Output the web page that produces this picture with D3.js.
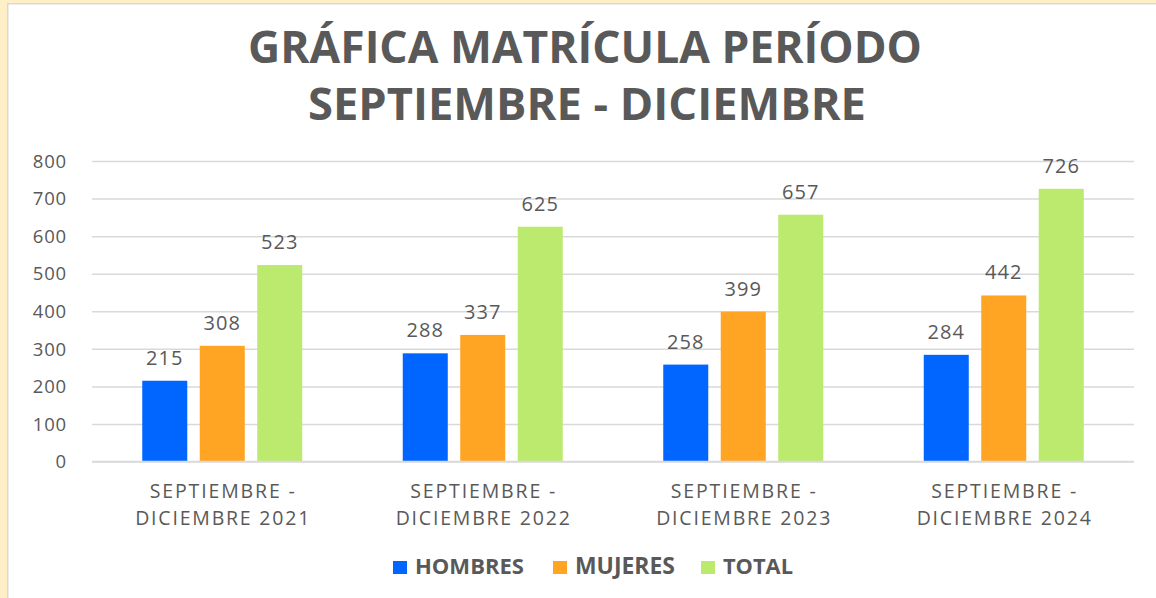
<!DOCTYPE html>
<html>
<head>
<meta charset="utf-8">
<script src="https://cdn.jsdelivr.net/npm/d3@7"></script>
<style>
  html, body { margin: 0; padding: 0; background: #fff; }
  svg { display: block; }
  text { font-family: "Open Sans", "DejaVu Sans", sans-serif; }
</style>
</head>
<body>
<svg id="chart" width="1156" height="598"></svg>
<script>
const titleLines = ["GRÁFICA MATRÍCULA PERÍODO", "SEPTIEMBRE - DICIEMBRE"];
const categories = ["SEPTIEMBRE - DICIEMBRE 2021", "SEPTIEMBRE - DICIEMBRE 2022", "SEPTIEMBRE - DICIEMBRE 2023", "SEPTIEMBRE - DICIEMBRE 2024"];
const categoryLines = [["SEPTIEMBRE -", "DICIEMBRE 2021"], ["SEPTIEMBRE -", "DICIEMBRE 2022"], ["SEPTIEMBRE -", "DICIEMBRE 2023"], ["SEPTIEMBRE -", "DICIEMBRE 2024"]];
const seriesNames = ["HOMBRES", "MUJERES", "TOTAL"];
const seriesColors = ["#0066FF", "#FFA523", "#BBEA6F"];
const hombres = [215, 288, 258, 284];
const mujeres = [308, 337, 399, 442];
const total = [523, 625, 657, 726];
const yTicks = [0, 100, 200, 300, 400, 500, 600, 700, 800];

const seriesValues = [hombres, mujeres, total];
const svg = d3.select("#chart");
const W = 1156, H = 598;
const textColor = "#595959";

// frame
svg.append("rect").attr("x", 0).attr("y", 0).attr("width", W).attr("height", H).attr("fill", "#FFEFC6");
svg.append("rect").attr("x", 7).attr("y", 3).attr("width", W - 7).attr("height", H - 3).attr("fill", "#D9D9D9");
svg.append("rect").attr("x", 8.5).attr("y", 4.5).attr("width", W - 8.5).attr("height", H - 4.5).attr("fill", "#FFFFFF");

const plot = { left: 92, right: 1134, top: 161, bottom: 461.5 };

const x0 = d3.scaleBand().domain(categories).range([plot.left, plot.right]).padding(0);
const x1 = d3.scaleBand().domain(seriesNames).range([0, x0.bandwidth()]).paddingInner(0.217).paddingOuter(0.874);
const y = d3.scaleLinear().domain([0, 800]).range([plot.bottom, plot.top]);

// fit helpers
function fitText(sel, targetWidth) {
  const node = sel.node();
  const fs = parseFloat(sel.attr("font-size"));
  const w = node.getComputedTextLength();
  if (w > 0) sel.attr("font-size", (fs * targetWidth / w).toFixed(2));
}
function spaceText(sel, targetWidth) {
  const node = sel.node();
  const w = node.getComputedTextLength();
  const n = sel.text().length;
  if (n > 1 && targetWidth > w) {
    const ls = (targetWidth - w) / n;
    sel.attr("letter-spacing", ls.toFixed(2) + "px").attr("dx", (ls / 2).toFixed(2));
  }
}

// title
const t1 = svg.append("text").attr("x", 585).attr("y", 63).attr("text-anchor", "middle")
  .attr("font-size", 35).attr("font-weight", 700).attr("fill", textColor).text(titleLines[0]);
fitText(t1, 674);
const t2 = svg.append("text").attr("x", 587).attr("y", 120).attr("text-anchor", "middle")
  .attr("font-size", 35).attr("font-weight", 700).attr("fill", textColor).text(titleLines[1]);
fitText(t2, 558);

// y axis with gridlines
const yAxis = d3.axisLeft(y).tickValues(yTicks).tickSize(-(plot.right - plot.left)).tickPadding(25).tickFormat(d3.format("d"));
const gy = svg.append("g").attr("transform", `translate(${plot.left},0)`).call(yAxis);
gy.select(".domain").remove();
gy.selectAll(".tick line").attr("stroke", "#D9D9D9").attr("stroke-width", 1.5);
gy.selectAll(".tick text").attr("fill", textColor).attr("font-size", 18.5).attr("letter-spacing", "0.8px")
  .attr("font-family", "'Open Sans', sans-serif").attr("dy", "0.34em");

// bars
const groups = svg.append("g").selectAll("g").data(categories).join("g")
  .attr("transform", d => `translate(${x0(d)},0)`);

groups.selectAll("rect").data((d, i) => seriesNames.map((s, j) => ({ s, v: seriesValues[j][i], c: seriesColors[j] })))
  .join("rect")
  .attr("x", d => x1(d.s)).attr("width", x1.bandwidth())
  .attr("y", d => y(d.v)).attr("height", d => y(0) - y(d.v))
  .attr("fill", d => d.c);

groups.selectAll("text.lbl").data((d, i) => seriesNames.map((s, j) => ({ s, v: seriesValues[j][i] })))
  .join("text").attr("class", "lbl")
  .attr("x", d => x1(d.s) + x1.bandwidth() / 2)
  .attr("y", d => y(d.v) - 16)
  .attr("text-anchor", "middle").attr("font-size", 20).attr("letter-spacing", "1px")
  .attr("fill", textColor).text(d => d.v);

// x axis baseline
svg.append("line").attr("x1", plot.left).attr("x2", plot.right).attr("y1", y(0)).attr("y2", y(0))
  .attr("stroke", "#D9D9D9").attr("stroke-width", 1.5);

// x axis labels
const xAxis = d3.axisBottom(x0).tickSize(0).tickFormat(() => "");
const gx = svg.append("g").attr("transform", `translate(0,${y(0)})`).call(xAxis);
gx.select(".domain").remove();
gx.selectAll(".tick").each(function(d, i) {
  const g = d3.select(this);
  const a = g.append("text").attr("text-anchor", "middle").attr("fill", textColor)
    .attr("font-size", 19.5).attr("x", 0).attr("y", 36.5).text(categoryLines[i][0]);
  spaceText(a, 147);
  const b = g.append("text").attr("text-anchor", "middle").attr("fill", textColor)
    .attr("font-size", 19.5).attr("x", 0).attr("y", 63.5).text(categoryLines[i][1]);
  spaceText(b, 176);
});

// legend
const legendItems = [
  { name: seriesNames[0], color: seriesColors[0], x: 393, tw: 109 },
  { name: seriesNames[1], color: seriesColors[1], x: 553, tw: 100 },
  { name: seriesNames[2], color: seriesColors[2], x: 701, tw: 70 }
];
const lg = svg.append("g");
legendItems.forEach(it => {
  lg.append("rect").attr("x", it.x).attr("y", 561).attr("width", 14).attr("height", 13).attr("fill", it.color);
  const t = lg.append("text").attr("x", it.x + 22).attr("y", 574).attr("font-size", 18).attr("font-weight", 700)
    .attr("fill", textColor).text(it.name);
  fitText(t, it.tw);
});
</script>
</body>
</html>
